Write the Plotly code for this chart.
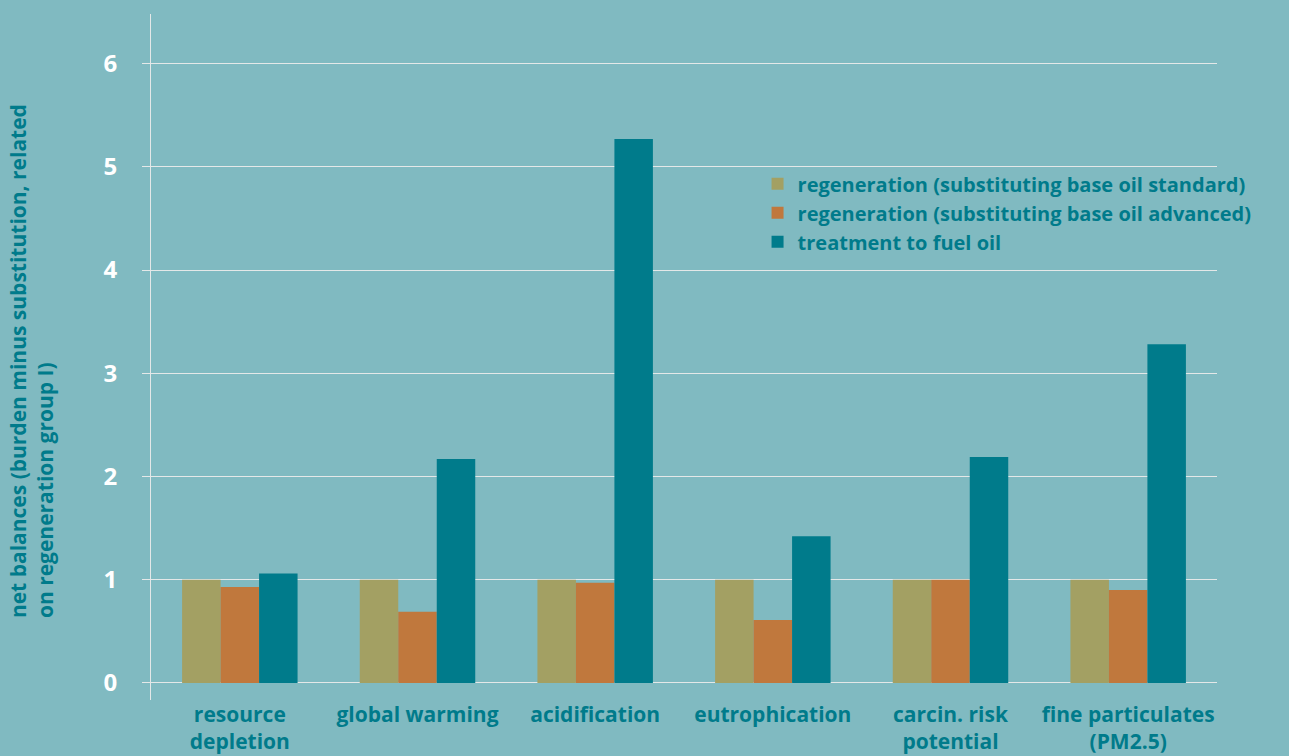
import plotly.graph_objects as go

categories = ["resource<br>depletion", "global warming", "acidification",
              "eutrophication", "carcin. risk<br>potential", "fine particulates<br>(PM2.5)"]
series_names = ["regeneration (substituting base oil standard)",
                "regeneration (substituting base oil advanced)",
                "treatment to fuel oil"]
regen_standard = [1.0, 1.0, 1.0, 1.0, 1.0, 1.0]
regen_advanced = [0.93, 0.69, 0.97, 0.61, 1.0, 0.90]
fuel_oil = [1.06, 2.17, 5.27, 1.42, 2.19, 3.28]
y_ticks = [0, 1, 2, 3, 4, 5, 6]

BG = "#80bac1"
TEAL = "#007b8b"
colors = ["#a3a063", "#c0783d", "#007b8b"]
FONT = "'Open Sans', sans-serif"

fig = go.Figure()
for name, vals, col in zip(series_names, [regen_standard, regen_advanced, fuel_oil], colors):
    fig.add_trace(go.Bar(x=categories, y=vals, name=name, marker_color=col,
                         marker_line_width=0))

fig.update_layout(
    width=1289, height=756,
    paper_bgcolor=BG, plot_bgcolor=BG,
    margin=dict(l=151, r=72, t=14, b=56),
    barmode="group", bargap=0.35, bargroupgap=0,
    font=dict(family=FONT, color=TEAL),
    showlegend=True,
    legend=dict(x=0.569, y=0.781, xanchor="left", yanchor="top",
                bgcolor="rgba(0,0,0,0)",
                font=dict(family=FONT, size=20, color=TEAL, weight="bold"),
                itemclick=False, tracegroupgap=0),
    xaxis=dict(showgrid=False, showline=False, zeroline=False, ticks="",
               automargin=False,
               tickfont=dict(family=FONT, size=21, color=TEAL, weight="bold")),
    yaxis=dict(range=[-0.165, 6.48], tickvals=y_ticks, automargin=False,
               showgrid=True, gridcolor="#e4e8e8", gridwidth=1,
               zeroline=False, showline=True, linecolor="#e4e8e8", linewidth=1,
               ticks="outside", ticklen=8, tickcolor="#e4e8e8",
               ticklabelstandoff=20,
               tickfont=dict(family=FONT, size=24, color="white", weight="bold")),
    annotations=[dict(
        text="net balances (burden minus substitution, related<br>on regeneration group I)",
        xref="paper", yref="paper", x=(31 - 151) / 1066, y=0.494,
        xanchor="center", yanchor="middle", textangle=-90, align="left",
        showarrow=False,
        font=dict(family=FONT, size=21, color=TEAL, weight="bold"))],
)

fig.write_html("out.html")
